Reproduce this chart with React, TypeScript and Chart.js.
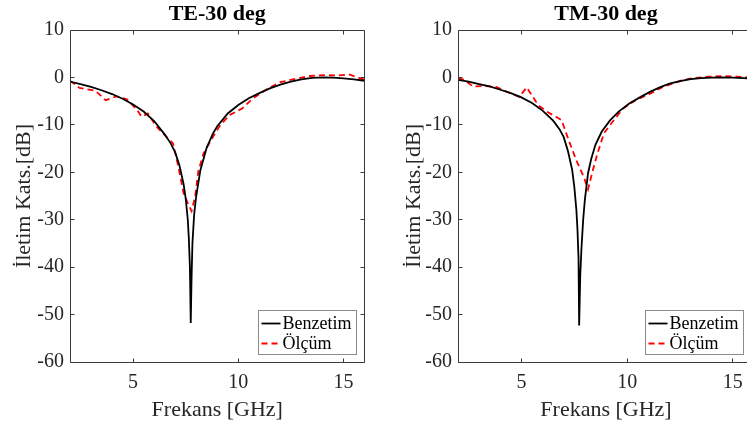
import React, { useEffect, useRef } from "react";
import { Chart, registerables } from "chart.js";

Chart.register(...registerables);

const FONT = '"Liberation Serif", "Times New Roman", serif';

// Axis ticks
const xTickValues = [5, 10, 15];
const yTickValues = [-60, -50, -40, -30, -20, -10, 0, 10];
const legendLabels = ["Benzetim", "Ölçüm"];
const panelTitles = ["TE-30 deg", "TM-30 deg"];
const xAxisTitle = "Frekans [GHz]";
const yAxisTitle = "İletim Kats.[dB]";

// TE-30 deg, simulation (Benzetim)
const teSimFreq = [2.0, 2.5, 3.0, 3.5, 4.0, 4.5, 5.0, 5.5, 6.0, 6.5, 6.8, 7.0, 7.2, 7.4, 7.5, 7.6, 7.65, 7.7, 7.74, 7.78, 7.82, 7.9, 8.0, 8.2, 8.5, 8.8, 9.0, 9.5, 10.0, 10.5, 11.0, 11.5, 12.0, 12.5, 13.0, 13.5, 14.0, 14.5, 15.0, 15.5, 16.0];
const teSimDb = [-0.9, -1.4, -2.0, -2.7, -3.5, -4.5, -5.7, -7.2, -9.2, -12.0, -14.0, -15.8, -18.5, -22.5, -25.5, -30.0, -34.0, -40.0, -51.8, -42.0, -35.0, -29.0, -25.0, -19.5, -14.8, -11.8, -10.3, -7.6, -5.8, -4.4, -3.3, -2.3, -1.5, -0.9, -0.4, -0.1, 0.0, -0.05, -0.2, -0.4, -0.7];

// TE-30 deg, measurement (Ölçüm)
const teMeasFreq = [2.0, 2.45, 3.2, 3.7, 4.2, 4.7, 5.2, 5.4, 5.7, 6.1, 6.6, 6.9, 7.15, 7.4, 7.6, 7.78, 7.95, 8.1, 8.35, 8.8, 9.15, 9.6, 10.2, 10.7, 11.35, 12.0, 12.6, 13.4, 14.0, 14.7, 15.3, 16.0];
const teMeasDb = [-0.7, -2.2, -2.8, -4.8, -4.0, -4.6, -6.9, -8.3, -7.6, -10.3, -12.6, -13.9, -18.8, -24.4, -26.5, -28.2, -25.1, -19.8, -16.0, -12.5, -10.0, -7.9, -6.5, -4.4, -2.5, -1.0, -0.4, 0.3, 0.5, 0.4, 0.6, -0.5];

// TM-30 deg, simulation (Benzetim)
const tmSimFreq = [2.0, 2.5, 3.0, 3.5, 4.0, 4.5, 5.0, 5.5, 6.0, 6.5, 6.8, 7.0, 7.2, 7.4, 7.5, 7.6, 7.65, 7.7, 7.73, 7.78, 7.84, 7.92, 8.0, 8.15, 8.3, 8.5, 8.8, 9.2, 9.6, 10.1, 10.6, 11.1, 11.6, 12.0, 12.5, 13.0, 13.5, 14.0, 14.5, 15.0, 15.5, 16.0];
const tmSimDb = [-0.5, -0.9, -1.4, -1.9, -2.6, -3.3, -4.2, -5.4, -7.0, -9.1, -10.9, -12.6, -15.5, -19.5, -23.0, -28.0, -32.0, -38.0, -52.3, -42.0, -36.0, -30.0, -25.8, -20.2, -17.2, -14.2, -11.4, -9.0, -7.2, -5.5, -4.2, -3.0, -2.0, -1.3, -0.8, -0.35, -0.15, -0.05, 0.0, -0.05, -0.15, -0.3];

// TM-30 deg, measurement (Ölçüm)
const tmMeasFreq = [2.0, 2.3, 2.7, 3.2, 3.8, 4.3, 4.9, 5.25, 5.8, 6.2, 6.6, 6.9, 7.2, 7.6, 7.95, 8.15, 8.35, 8.6, 8.9, 9.2, 9.8, 10.4, 11.1, 11.7, 12.6, 13.2, 13.8, 14.5, 15.2, 16.0];
const tmMeasDb = [-0.2, -0.5, -1.9, -1.8, -2.0, -3.0, -4.1, -2.1, -5.9, -7.2, -8.2, -9.0, -12.8, -17.5, -21.0, -23.6, -20.0, -16.0, -11.8, -10.0, -6.6, -4.8, -3.4, -2.0, -0.6, -0.1, 0.15, 0.3, 0.15, 0.0];

const framePlugin = {
  id: "matlabFrame",
  afterDatasetsDraw(chart: any) {
    const { ctx, chartArea } = chart;
    const { left, right, top, bottom } = chartArea;
    const xs = chart.scales.x;
    const ys = chart.scales.y;
    const L = Math.floor(left) + 0.5;
    const R = Math.floor(right) + 0.5;
    const T = Math.floor(top) + 0.5;
    const B = Math.floor(bottom) + 0.5;
    const tl = 4;
    ctx.save();
    ctx.strokeStyle = "#3a3a3a";
    ctx.lineWidth = 1;
    ctx.beginPath();
    ctx.rect(L, T, R - L, B - T);
    xTickValues.forEach((v) => {
      const px = Math.floor(xs.getPixelForValue(v)) + 0.5;
      ctx.moveTo(px, B);
      ctx.lineTo(px, B - tl);
      ctx.moveTo(px, T);
      ctx.lineTo(px, T + tl);
    });
    yTickValues.forEach((v) => {
      const py = Math.floor(ys.getPixelForValue(v)) + 0.5;
      ctx.moveTo(L, py);
      ctx.lineTo(L + tl, py);
      ctx.moveTo(R, py);
      ctx.lineTo(R - tl, py);
    });
    ctx.stroke();
    ctx.restore();
  },
};

const insideLegendPlugin = {
  id: "insideLegend",
  afterDraw(chart: any, _args: any, opts: any) {
    const { ctx, chartArea } = chart;
    const datasets = chart.data.datasets;
    ctx.save();
    ctx.font = `18px ${FONT}`;
    const textW = Math.max(...datasets.map((d: any) => ctx.measureText(d.label).width));
    const sampleX = 3;
    const sampleLen = 19;
    const textGap = 2;
    const w = sampleX + sampleLen + textGap + textW + 5;
    const h = 44;
    const right = chartArea.right - (opts.gapRight ?? 8);
    const bottom = chartArea.bottom - (opts.gapBottom ?? 8);
    const x0 = Math.floor(right - w) + 0.5;
    const y0 = Math.floor(bottom - h) + 0.5;
    ctx.fillStyle = "#ffffff";
    ctx.fillRect(x0, y0, w, h);
    ctx.strokeStyle = "#8a8a8a";
    ctx.lineWidth = 1;
    ctx.strokeRect(x0, y0, w, h);
    datasets.forEach((d: any, i: number) => {
      const cy = y0 + 13 + i * 20;
      ctx.strokeStyle = d.borderColor;
      ctx.lineWidth = d.borderWidth;
      ctx.setLineDash(d.borderDash || []);
      ctx.beginPath();
      ctx.moveTo(x0 + sampleX, cy);
      ctx.lineTo(x0 + sampleX + sampleLen, cy);
      ctx.stroke();
      ctx.setLineDash([]);
      ctx.fillStyle = "#000000";
      ctx.textAlign = "left";
      ctx.textBaseline = "middle";
      ctx.fillText(d.label, x0 + sampleX + sampleLen + textGap, cy + 0.5);
    });
    ctx.restore();
  },
};

type PanelProps = {
  title: string;
  simF: number[];
  simV: number[];
  measF: number[];
  measV: number[];
  left: number;
  padRight: number;
  yTitlePad: number;
  legendGap: number;
};

function Panel(p: PanelProps) {
  const ref = useRef<HTMLCanvasElement | null>(null);
  useEffect(() => {
    if (!ref.current) return;
    const chart = new Chart(ref.current, {
      type: "line",
      data: {
        datasets: [
          {
            label: legendLabels[0],
            data: p.simF.map((f, i) => ({ x: f, y: p.simV[i] })),
            borderColor: "#000000",
            borderWidth: 1.8,
            pointRadius: 0,
            tension: 0,
            fill: false,
          },
          {
            label: legendLabels[1],
            data: p.measF.map((f, i) => ({ x: f, y: p.measV[i] })),
            borderColor: "#ff0000",
            borderWidth: 1.8,
            borderDash: [6, 4],
            pointRadius: 0,
            tension: 0,
            fill: false,
          },
        ],
      },
      options: {
        responsive: false,
        animation: false,
        devicePixelRatio: 1,
        layout: { padding: { left: 0, right: p.padRight, top: 0, bottom: 0 } },
        plugins: {
          legend: { display: false },
          tooltip: { enabled: false },
          title: {
            display: true,
            text: p.title,
            fullSize: false,
            color: "#000000",
            font: { family: FONT, size: 22, weight: "bold", lineHeight: 1.2 },
            padding: { top: 1, bottom: 2.6 },
          },
          insideLegend: { gapRight: p.legendGap, gapBottom: 8 },
        } as any,
        scales: {
          x: {
            type: "linear",
            min: 2,
            max: 16,
            grid: { display: false, drawTicks: false },
            border: { display: false },
            afterBuildTicks: (s: any) => {
              s.ticks = xTickValues.map((v) => ({ value: v }));
            },
            afterFit: (s: any) => {
              s.height = 61;
            },
            ticks: {
              color: "#262626",
              font: { family: FONT, size: 20 },
              padding: 9,
              autoSkip: false,
              maxRotation: 0,
            },
            title: {
              display: true,
              text: xAxisTitle,
              color: "#262626",
              font: { family: FONT, size: 22 },
              padding: { top: 0, bottom: 0 },
            },
          },
          y: {
            type: "linear",
            min: -60,
            max: 10,
            grid: { display: false, drawTicks: false },
            border: { display: false },
            afterBuildTicks: (s: any) => {
              s.ticks = yTickValues.map((v) => ({ value: v }));
            },
            afterFit: (s: any) => {
              s.width = 70;
            },
            ticks: {
              color: "#262626",
              font: { family: FONT, size: 20 },
              padding: 6,
              autoSkip: false,
            },
            title: {
              display: true,
              text: yAxisTitle,
              color: "#262626",
              font: { family: FONT, size: 22 },
              padding: { top: p.yTitlePad, bottom: 0 },
            },
          },
        },
      } as any,
      plugins: [framePlugin, insideLegendPlugin],
    } as any);
    return () => chart.destroy();
  }, []);
  return (
    <canvas
      ref={ref}
      width={380}
      height={423}
      style={{ position: "absolute", left: p.left, top: 0, width: 380, height: 423, display: "block" }}
    />
  );
}

export default function App() {
  return (
    <div
      style={{
        position: "fixed",
        left: 0,
        top: 0,
        width: 747,
        height: 423,
        overflow: "hidden",
        background: "#ffffff",
      }}
    >
      <Panel title={panelTitles[0]} simF={teSimFreq} simV={teSimDb} measF={teMeasFreq} measV={teMeasDb} left={0} padRight={15.5} yTitlePad={11} legendGap={8} />
      <Panel title={panelTitles[1]} simF={tmSimFreq} simV={tmSimDb} measF={tmMeasFreq} measV={tmMeasDb} left={388} padRight={14} yTitlePad={13} legendGap={10.5} />
    </div>
  );
}
